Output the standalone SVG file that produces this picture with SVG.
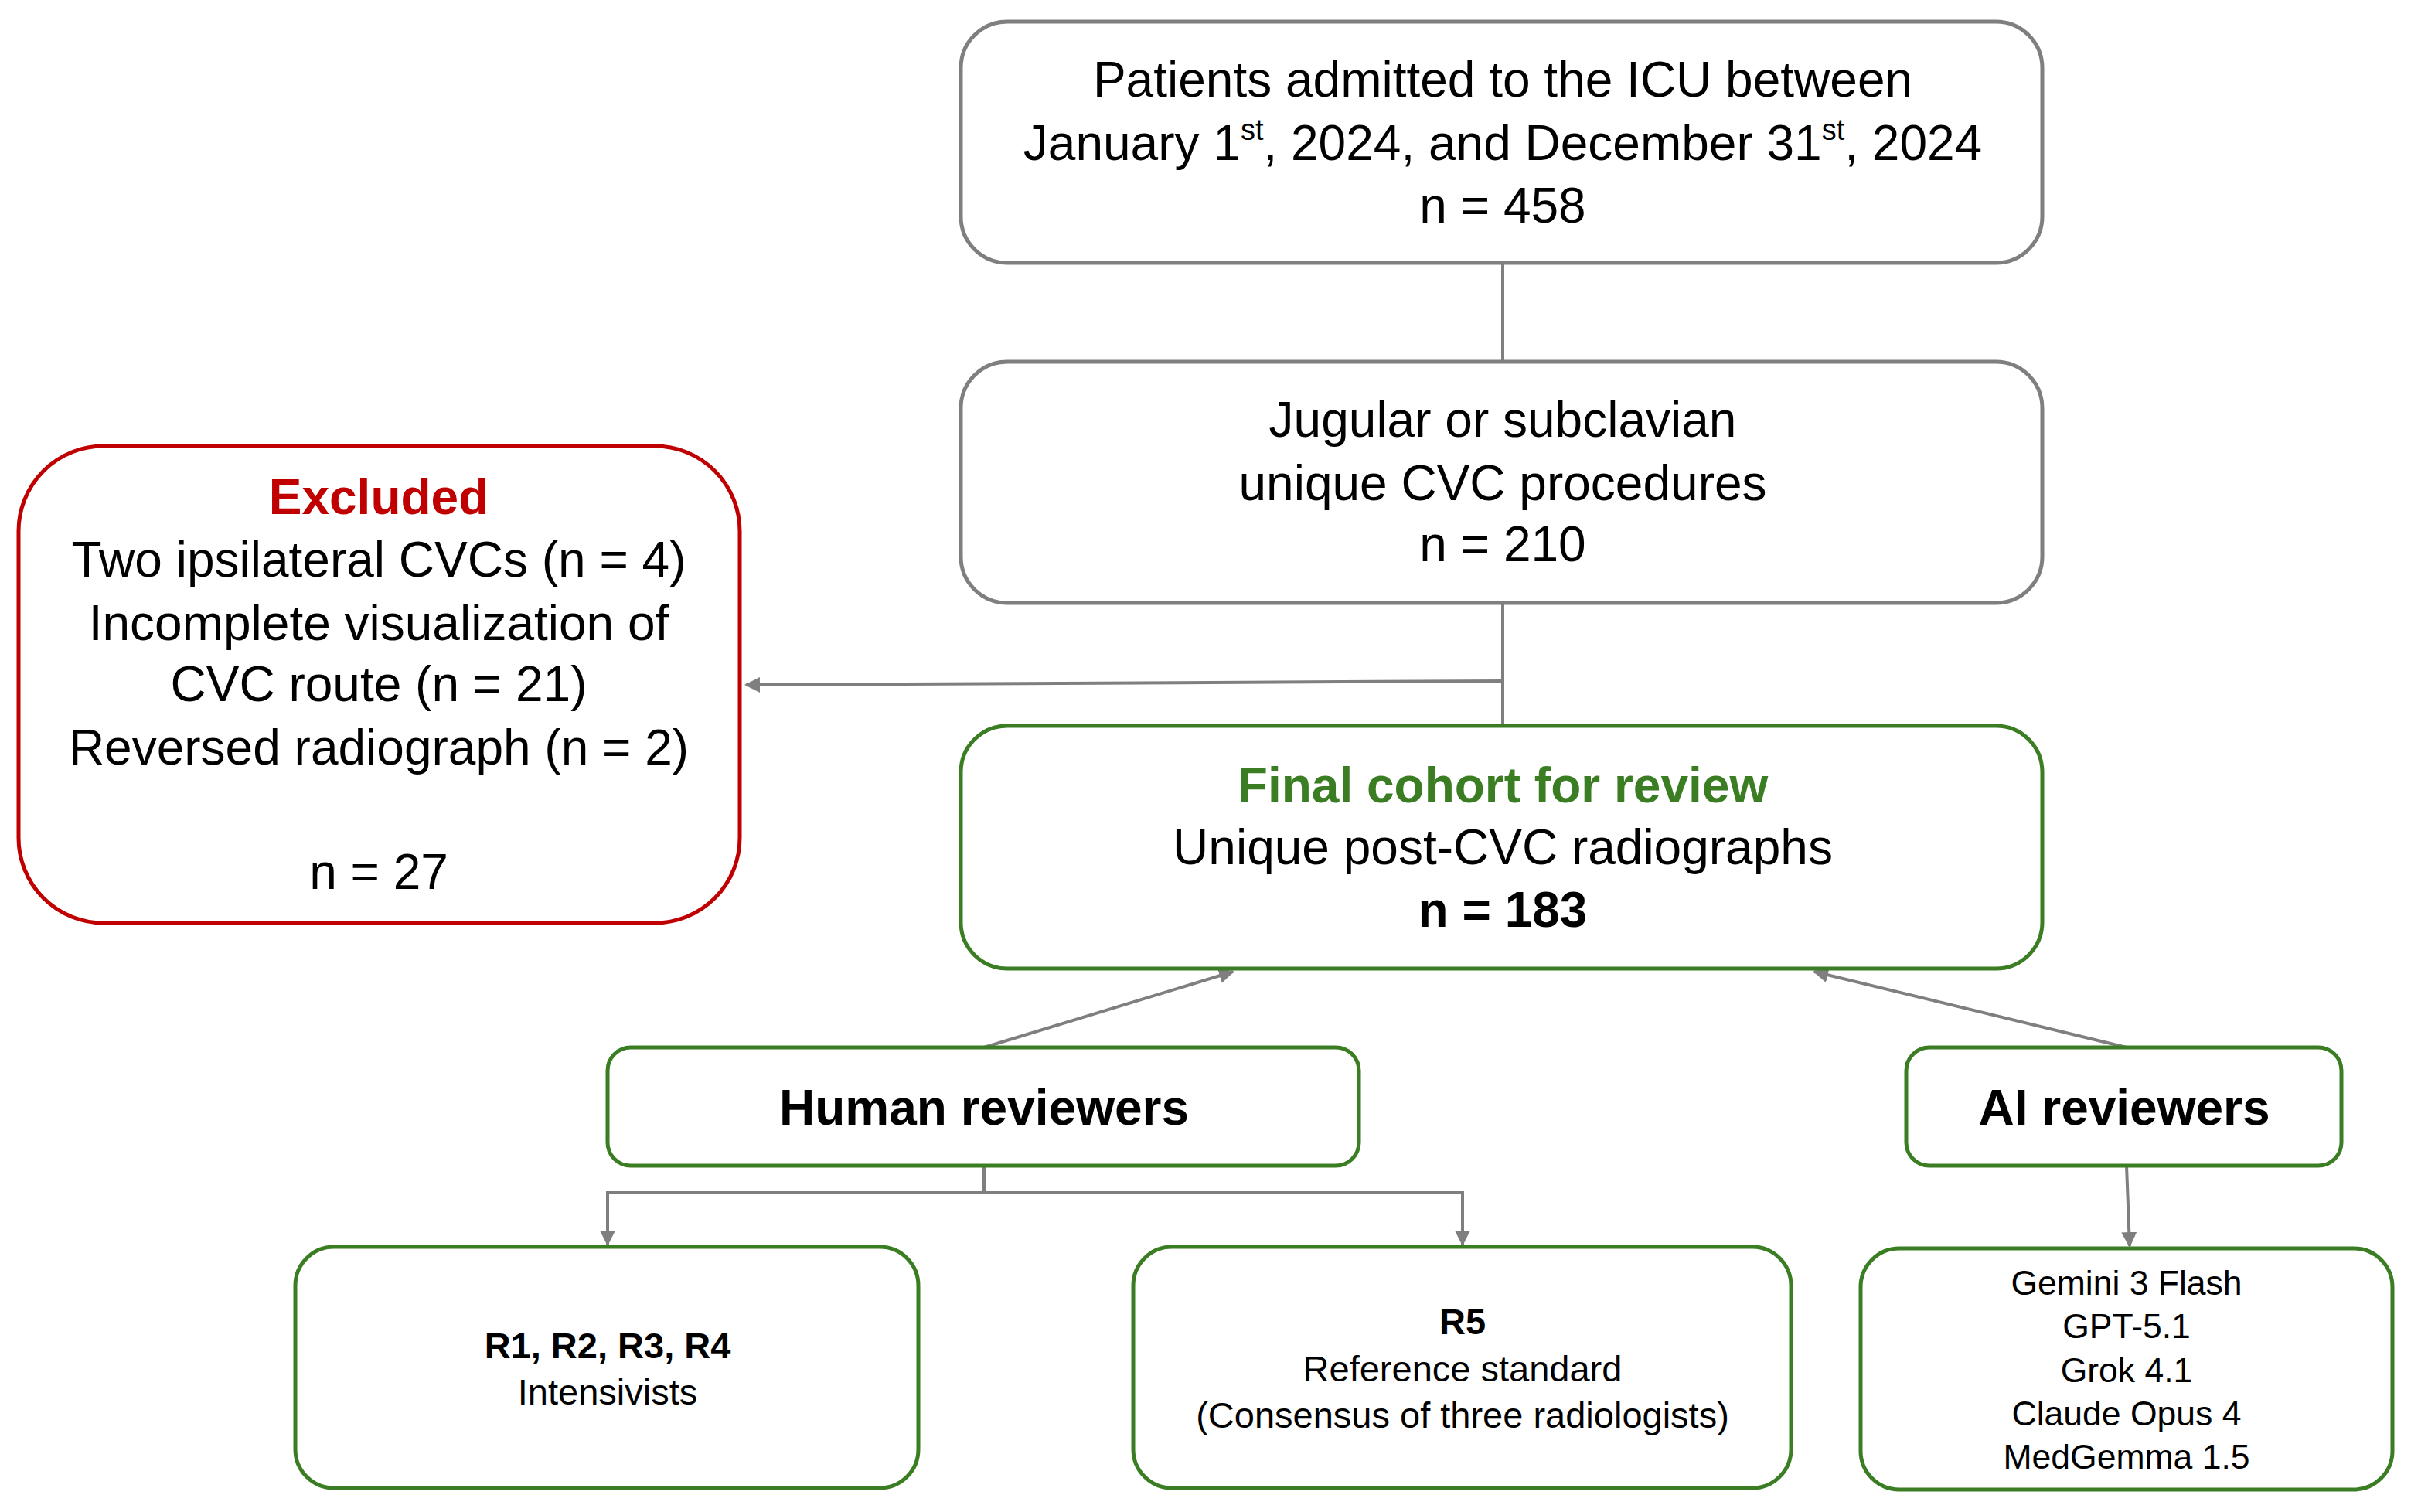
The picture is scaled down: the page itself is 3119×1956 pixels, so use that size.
<svg xmlns="http://www.w3.org/2000/svg" width="3119" height="1956" viewBox="0 0 3119 1956">
<style>
text{font-family:"Liberation Sans","Noto Sans",sans-serif;fill:#000;text-anchor:middle}
.big{font-size:64px}
.hd{font-size:64px;font-weight:bold}
.sm{font-size:47px}
.xs{font-size:44.5px}
.b{font-weight:bold}
.gray{fill:#fff;stroke:#7f7f7f;stroke-width:5}
.green{fill:#fff;stroke:#3a7d22;stroke-width:5}
.red{fill:#fff;stroke:#c00000;stroke-width:5}
.conn{fill:none;stroke:#7f7f7f;stroke-width:4}
</style>
<defs>
<marker id="ah" viewBox="0 0 10 10" refX="9" refY="5" markerWidth="5" markerHeight="5" orient="auto-start-reverse" markerUnits="strokeWidth">
<path d="M0,0 L10,5 L0,10 z" fill="#7f7f7f"/>
</marker>
</defs>
<rect width="3119" height="1956" fill="#fff"/>
<g id="connectors">
<line class="conn" x1="1944" y1="340" x2="1944" y2="468"/>
<line class="conn" x1="1944" y1="780" x2="1944" y2="939"/>
<polyline class="conn" points="1944,881 1944,881 965,886" marker-end="url(#ah)"/>
<line class="conn" x1="1273" y1="1355" x2="1595" y2="1257" marker-end="url(#ah)"/>
<line class="conn" x1="2751" y1="1355" x2="2347" y2="1257" marker-end="url(#ah)"/>
<polyline class="conn" points="1273,1508 1273,1543"/>
<polyline class="conn" points="786,1610 786,1543 1892,1543 1892,1610" marker-start="url(#ah)" marker-end="url(#ah)"/>
<line class="conn" x1="2751" y1="1508" x2="2755" y2="1612" marker-end="url(#ah)"/>
</g>
<g id="node-admitted">
<rect class="gray" x="1243" y="28" width="1399" height="312" rx="60"/>
<text class="big" x="1944" y="125">Patients admitted to the ICU between</text>
<text class="big" x="1944" y="207">January 1<tspan font-size="38" dy="-26">st</tspan><tspan dy="26">, 2024, and December 31</tspan><tspan font-size="38" dy="-26">st</tspan><tspan dy="26">, 2024</tspan></text>
<text class="big" x="1944" y="288">n = 458</text>
</g>
<g id="node-procedures">
<rect class="gray" x="1243" y="468" width="1399" height="312" rx="60"/>
<text class="big" x="1944" y="565">Jugular or subclavian</text>
<text class="big" x="1944" y="647">unique CVC procedures</text>
<text class="big" x="1944" y="726">n = 210</text>
</g>
<g id="node-excluded">
<rect class="red" x="24" y="577" width="933" height="617" rx="110"/>
<text class="big b" x="490" y="665" style="fill:#c00000">Excluded</text>
<text class="big" x="490" y="746">Two ipsilateral CVCs (n = 4)</text>
<text class="big" x="490" y="828">Incomplete visualization of</text>
<text class="big" x="490" y="907">CVC route (n = 21)</text>
<text class="big" x="490" y="989">Reversed radiograph (n = 2)</text>
<text class="big" x="490" y="1150">n = 27</text>
</g>
<g id="node-final">
<rect class="green" x="1243" y="939" width="1399" height="314" rx="60"/>
<text class="big b" x="1944" y="1038" style="fill:#3a7d22">Final cohort for review</text>
<text class="big" x="1944" y="1118">Unique post-CVC radiographs</text>
<text class="big b" x="1944" y="1199">n = 183</text>
</g>
<g id="node-human">
<rect class="green" x="786" y="1355" width="972" height="153" rx="30"/>
<text class="hd" x="1273" y="1455">Human reviewers</text>
</g>
<g id="node-ai">
<rect class="green" x="2466" y="1355" width="563" height="153" rx="30"/>
<text class="hd" x="2748" y="1455">AI reviewers</text>
</g>
<g id="node-r1">
<rect class="green" x="382" y="1613" width="806" height="312" rx="50"/>
<text class="sm b" x="786" y="1757">R1, R2, R3, R4</text>
<text class="sm" x="786" y="1817">Intensivists</text>
</g>
<g id="node-r5">
<rect class="green" x="1466" y="1613" width="851" height="312" rx="50"/>
<text class="sm b" x="1892" y="1726">R5</text>
<text class="sm" x="1892" y="1787">Reference standard</text>
<text class="sm" x="1892" y="1847">(Consensus of three radiologists)</text>
</g>
<g id="node-ailist">
<rect class="green" x="2407" y="1615" width="688" height="312" rx="50"/>
<text class="xs" x="2751" y="1675">Gemini 3 Flash</text>
<text class="xs" x="2751" y="1731">GPT-5.1</text>
<text class="xs" x="2751" y="1788">Grok 4.1</text>
<text class="xs" x="2751" y="1844">Claude Opus 4</text>
<text class="xs" x="2751" y="1900">MedGemma 1.5</text>
</g>
</svg>
